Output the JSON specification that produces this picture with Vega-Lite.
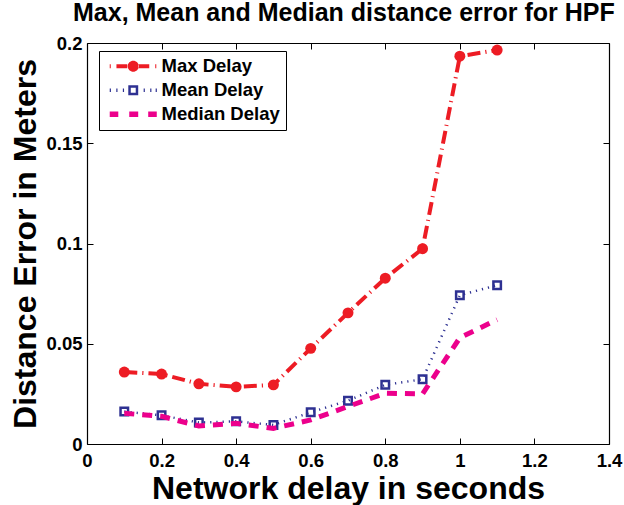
{
  "$schema": "https://vega.github.io/schema/vega-lite/v6.json",
  "width": 522,
  "height": 401,
  "autosize": {"type": "none"},
  "padding": {"left": 87, "top": 43, "right": 15, "bottom": 61},
  "background": "white",
  "config": {
    "view": {"stroke": null},
    "font": "Liberation Sans",
    "axis": {
      "grid": false,
      "domainColor": "black",
      "domainWidth": 1.2,
      "tickColor": "black",
      "tickWidth": 1,
      "tickSize": -6,
      "labelFont": "Liberation Sans",
      "labelFontSize": 18.5,
      "labelFontWeight": "bold",
      "labelColor": "black",
      "labelFlush": false,
      "labelOverlap": false,
      "titleFont": "Liberation Sans",
      "titleFontSize": 32,
      "titleFontWeight": "bold",
      "titleColor": "black"
    }
  },
  "title": {
    "text": "Max, Mean and Median distance error for HPF",
    "anchor": "start",
    "frame": "group",
    "dx": -14,
    "offset": 8,
    "font": "Liberation Sans",
    "fontSize": 25,
    "fontWeight": "bold",
    "color": "black"
  },
  "data": {
    "values": [
      {"delay": 0.1, "series": "Max Delay", "error": 0.0359},
      {"delay": 0.2, "series": "Max Delay", "error": 0.0349},
      {"delay": 0.3, "series": "Max Delay", "error": 0.0300},
      {"delay": 0.4, "series": "Max Delay", "error": 0.0285},
      {"delay": 0.5, "series": "Max Delay", "error": 0.0295},
      {"delay": 0.6, "series": "Max Delay", "error": 0.0477},
      {"delay": 0.7, "series": "Max Delay", "error": 0.0654},
      {"delay": 0.8, "series": "Max Delay", "error": 0.0827},
      {"delay": 0.9, "series": "Max Delay", "error": 0.0974},
      {"delay": 1.0, "series": "Max Delay", "error": 0.1934},
      {"delay": 1.1, "series": "Max Delay", "error": 0.1965},
      {"delay": 0.1, "series": "Mean Delay", "error": 0.0162},
      {"delay": 0.2, "series": "Mean Delay", "error": 0.0143},
      {"delay": 0.3, "series": "Mean Delay", "error": 0.0107},
      {"delay": 0.4, "series": "Mean Delay", "error": 0.0113},
      {"delay": 0.5, "series": "Mean Delay", "error": 0.0095},
      {"delay": 0.6, "series": "Mean Delay", "error": 0.0158},
      {"delay": 0.7, "series": "Mean Delay", "error": 0.0216},
      {"delay": 0.8, "series": "Mean Delay", "error": 0.0295},
      {"delay": 0.9, "series": "Mean Delay", "error": 0.0323},
      {"delay": 1.0, "series": "Mean Delay", "error": 0.0742},
      {"delay": 1.1, "series": "Mean Delay", "error": 0.0792},
      {"delay": 0.1, "series": "Median Delay", "error": 0.0153},
      {"delay": 0.2, "series": "Median Delay", "error": 0.0138},
      {"delay": 0.3, "series": "Median Delay", "error": 0.0090},
      {"delay": 0.4, "series": "Median Delay", "error": 0.0103},
      {"delay": 0.5, "series": "Median Delay", "error": 0.0078},
      {"delay": 0.6, "series": "Median Delay", "error": 0.0120},
      {"delay": 0.7, "series": "Median Delay", "error": 0.0187},
      {"delay": 0.8, "series": "Median Delay", "error": 0.0253},
      {"delay": 0.9, "series": "Median Delay", "error": 0.0250},
      {"delay": 1.0, "series": "Median Delay", "error": 0.0530},
      {"delay": 1.1, "series": "Median Delay", "error": 0.0620}
    ]
  },
  "layer": [
    {
      "transform": [{"filter": "datum.series === 'Max Delay'"}],
      "mark": {"type": "line", "strokeWidth": 4, "strokeDash": [13, 5, 1.2, 5], "strokeCap": "butt"},
      "encoding": {
        "x": {
          "field": "delay", "type": "quantitative",
          "scale": {"domain": [0, 1.4], "nice": false, "zero": false},
          "axis": {
            "orient": "bottom",
            "values": [0, 0.2, 0.4, 0.6, 0.8, 1, 1.2, 1.4],
            "format": "~g",
            "labelPadding": 13,
            "title": "Network delay in seconds",
            "titlePadding": 4
          }
        },
        "y": {
          "field": "error", "type": "quantitative",
          "scale": {"domain": [0, 0.2], "nice": false},
          "axis": {
            "orient": "left",
            "values": [0, 0.05, 0.1, 0.15, 0.2],
            "format": "~g",
            "labelPadding": 11,
            "title": "Distance Error in Meters",
            "titlePadding": 3
          }
        },
        "color": {
          "field": "series", "type": "nominal",
          "scale": {"domain": ["Max Delay", "Mean Delay", "Median Delay"], "range": ["#ed1c24", "#2e3192", "#ec008c"]}
        }
      }
    },
    {
      "transform": [{"filter": "datum.series === 'Max Delay'"}],
      "mark": {"type": "point", "shape": "circle", "filled": true, "size": 120, "opacity": 1},
      "encoding": {
        "x": {"field": "delay", "type": "quantitative", "axis": null},
        "y": {"field": "error", "type": "quantitative", "axis": null},
        "color": {"field": "series", "type": "nominal"}
      }
    },
    {
      "transform": [{"filter": "datum.series === 'Mean Delay'"}],
      "mark": {"type": "line", "strokeWidth": 2.5, "strokeDash": [1.2, 5], "strokeCap": "butt"},
      "encoding": {
        "x": {"field": "delay", "type": "quantitative", "axis": null},
        "y": {"field": "error", "type": "quantitative", "axis": null},
        "color": {"field": "series", "type": "nominal"}
      }
    },
    {
      "transform": [{"filter": "datum.series === 'Mean Delay'"}],
      "mark": {"type": "point", "shape": "square", "filled": false, "size": 56, "strokeWidth": 2.5, "opacity": 1},
      "encoding": {
        "x": {"field": "delay", "type": "quantitative", "axis": null},
        "y": {"field": "error", "type": "quantitative", "axis": null},
        "color": {"field": "series", "type": "nominal"}
      }
    },
    {
      "transform": [{"filter": "datum.series === 'Median Delay'"}],
      "mark": {"type": "line", "strokeWidth": 5, "strokeDash": [10, 8], "strokeCap": "butt"},
      "encoding": {
        "x": {"field": "delay", "type": "quantitative", "axis": null},
        "y": {"field": "error", "type": "quantitative", "axis": null},
        "color": {"field": "series", "type": "nominal"}
      }
    },
    {
      "transform": [{"filter": "false"}],
      "mark": {"type": "point", "filled": true, "opacity": 1},
      "encoding": {
        "x": {
          "field": "delay", "type": "quantitative",
          "axis": {"orient": "top", "values": [0, 0.2, 0.4, 0.6, 0.8, 1, 1.2, 1.4], "labels": false, "title": null}
        },
        "y": {
          "field": "error", "type": "quantitative",
          "axis": {"orient": "right", "values": [0, 0.05, 0.1, 0.15, 0.2], "labels": false, "title": null}
        },
        "color": {
          "field": "series", "type": "nominal",
          "legend": {
            "title": null,
            "orient": "none",
            "legendX": 12,
            "legendY": 8,
            "direction": "vertical",
            "fillColor": "white",
            "strokeColor": "black",
            "padding": 6,
            "symbolSize": 256,
            "symbolOffset": 19,
            "symbolStrokeWidth": 0,
            "symbolOpacity": 1,
            "labelOffset": 19,
            "rowPadding": 5,
            "labelFont": "Liberation Sans",
            "labelFontSize": 18.5,
            "labelFontWeight": "bold",
            "labelColor": "black"
          }
        },
        "shape": {
          "field": "series", "type": "nominal",
          "scale": {
            "domain": ["Max Delay", "Mean Delay", "Median Delay"],
            "range": [
              "M-2.94,-0.25h0.13v0.5h-0.13z M-2.1,-0.25h1.35v0.5h-1.35z M-0.69,0a0.69,0.69 0 1,0 1.38,0a0.69,0.69 0 1,0 -1.38,0z M0.62,-0.25h1.38v0.5h-1.38z M2.75,-0.25h0.13v0.5h-0.13z",
              "M-2.94,-0.22h0.15v0.44h-0.15z M-2.12,-0.22h0.15v0.44h-0.15z M-1.3,-0.22h0.15v0.44h-0.15z M-0.62,-0.62h1.24v1.24h-1.24z M-0.31,-0.31v0.62h0.62v-0.62z M1.3,-0.22h0.15v0.44h-0.15z M2.12,-0.22h0.15v0.44h-0.15z M2.8,-0.22h0.15v0.44h-0.15z",
              "M-2.94,-0.33h1.07v0.66h-1.07z M-0.5,-0.33h1.12v0.66h-1.12z M1.87,-0.33h1.07v0.66h-1.07z"
            ]
          },
          "legend": {"title": null}
        }
      }
    }
  ],
  "resolve": {"axis": {"x": "independent", "y": "independent"}}
}
